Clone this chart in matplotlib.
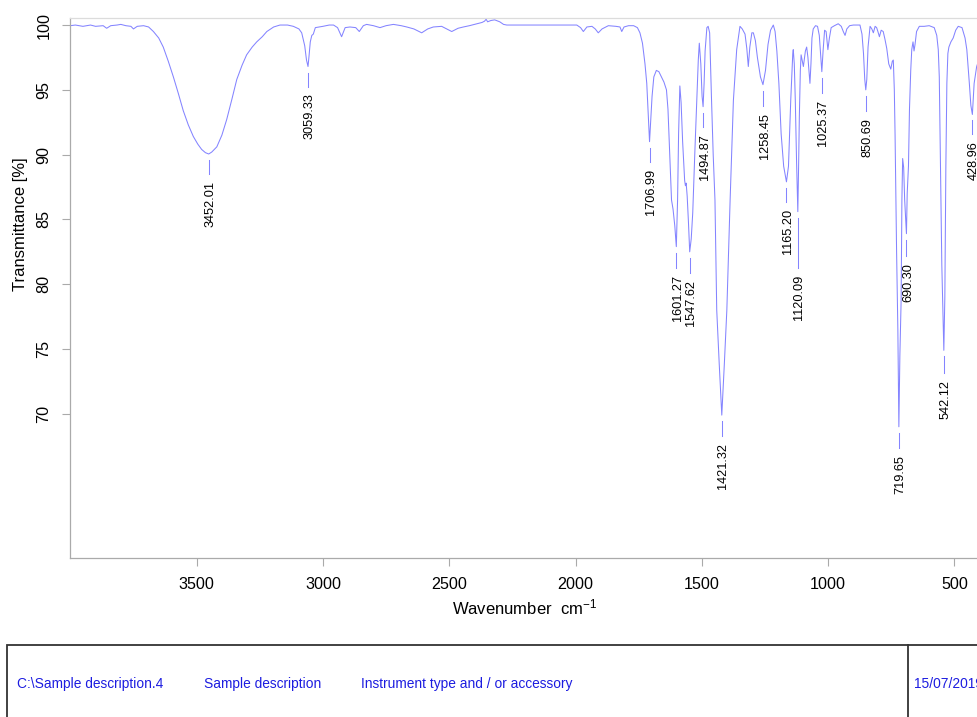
import matplotlib
matplotlib.use("Agg")
import matplotlib.pyplot as plt
from matplotlib.patches import Rectangle
from matplotlib.lines import Line2D

plt.rcParams['font.family'] = ['Liberation Sans', 'DejaVu Sans']
plt.rcParams['mathtext.default'] = 'regular'

# ---------------- data ----------------
wavenumber = [
    4000, 3980, 3950, 3920, 3900, 3870, 3856, 3840, 3815, 3800, 3780, 3760, 3750, 3735, 3710, 3690,
    3671, 3650, 3632, 3612, 3592, 3572, 3553, 3533, 3513, 3495, 3480, 3465, 3452, 3440, 3420, 3400,
    3381, 3360, 3341, 3320, 3302, 3280, 3262, 3240, 3222, 3195, 3170, 3140, 3117, 3095, 3084, 3072,
    3065, 3059, 3055, 3050, 3044, 3038, 3030, 3000, 2975, 2958, 2942, 2926, 2912, 2893, 2870, 2856,
    2840, 2827, 2800, 2774, 2750, 2721, 2690, 2668, 2640, 2609, 2585, 2563, 2530, 2510, 2490, 2465,
    2444, 2420, 2400, 2370, 2360, 2354, 2348, 2335, 2320, 2300, 2285, 2272, 2100, 1995, 1980, 1969,
    1955, 1935, 1922, 1910, 1895, 1870, 1840, 1824, 1817, 1808, 1790, 1770, 1755, 1745, 1735, 1725,
    1718, 1712, 1707, 1702, 1697, 1690, 1680, 1670, 1660, 1650, 1640, 1634, 1628, 1620, 1614, 1607,
    1601, 1596, 1592, 1587, 1582, 1576, 1568, 1565, 1562, 1558, 1553, 1548, 1542, 1536, 1528, 1520,
    1514, 1510, 1504, 1499, 1495, 1491, 1487, 1480, 1475, 1469, 1462, 1455, 1448, 1441, 1431, 1421,
    1411, 1401, 1388, 1375, 1362, 1349, 1340, 1329, 1322, 1316, 1310, 1302, 1296, 1288, 1280, 1268,
    1258, 1248, 1238, 1228, 1217, 1210, 1203, 1195, 1186, 1176, 1165, 1157, 1148, 1140, 1138, 1134,
    1130, 1125, 1120, 1117, 1114, 1110, 1107, 1102, 1098, 1090, 1085, 1080, 1076, 1072, 1068, 1064,
    1059, 1050, 1042, 1035, 1030, 1025, 1020, 1014, 1008, 1001, 995, 988, 975, 960, 948, 940,
    933, 926, 915, 900, 874, 866, 860, 855, 851, 847, 842, 834, 827, 821, 814, 808,
    803, 797, 790, 782, 775, 768, 760, 752, 746, 742, 738, 735, 729, 724, 720, 716,
    711, 708, 705, 701, 697, 690, 687, 682, 678, 673, 669, 664, 660, 656, 650, 639,
    620, 600, 580, 570, 564, 560, 557, 550, 546, 542, 538, 534, 530, 526, 522, 514,
    505, 495, 485, 470, 458, 451, 441, 435, 429, 422, 412, 400,
]
transmittance = [
    99.95, 100.0, 99.9, 100.0, 99.9, 99.95, 99.75, 99.95, 100.0, 100.05, 99.95, 99.9, 99.7, 99.9, 99.95, 99.85,
    99.5, 99.0, 98.3, 97.2, 96.0, 94.7, 93.4, 92.3, 91.4, 90.8, 90.4, 90.15, 90.05, 90.2, 90.6, 91.5,
    92.7, 94.3, 95.8, 96.9, 97.7, 98.3, 98.7, 99.1, 99.5, 99.85, 100.0, 100.0, 99.9, 99.7, 99.4, 98.4,
    97.3, 96.8, 97.6, 98.7, 99.2, 99.3, 99.8, 99.9, 100.0, 100.0, 99.8, 99.1, 99.8, 99.85, 99.8, 99.5,
    99.95, 100.05, 99.95, 99.8, 99.95, 100.05, 99.95, 99.85, 99.7, 99.4, 99.7, 99.85, 99.9, 99.7, 99.5, 99.75,
    99.85, 99.95, 100.05, 100.2, 100.3, 100.45, 100.25, 100.35, 100.4, 100.25, 100.05, 100.0, 100.0, 100.0, 99.8, 99.5,
    99.85, 99.9, 99.7, 99.4, 99.7, 99.95, 99.9, 99.85, 99.5, 99.85, 99.95, 99.95, 99.8, 99.4, 98.6, 97.0,
    95.5, 93.0, 91.0, 92.8, 94.5, 96.0, 96.5, 96.4, 96.0, 95.6, 95.0, 93.5, 90.5, 86.5, 85.8, 84.5,
    82.9, 86.5, 91.6, 95.3, 94.0, 91.0, 88.0, 87.6, 87.8, 86.8, 84.8, 82.5, 83.5, 85.5, 90.0, 94.2,
    97.3, 98.6, 97.0, 94.5, 93.7, 95.5, 98.0, 99.8, 99.9, 99.4, 94.5, 90.0, 86.5, 78.0, 73.8, 69.9,
    73.8, 78.0, 86.5, 94.2, 98.1, 99.9, 99.7, 99.3, 98.2, 96.8, 98.3, 99.4, 99.4, 98.8, 97.5, 96.0,
    95.4, 96.5, 98.5, 99.6, 100.0, 99.5, 98.0, 95.5, 91.6, 89.1, 87.9, 89.1, 94.2, 97.8, 98.1, 97.0,
    94.2, 89.5, 85.6, 89.0, 92.9, 96.5, 97.7, 97.2, 96.8, 98.0, 98.3, 97.5, 96.5, 95.5, 97.0, 99.0,
    99.7, 99.95, 99.9, 99.2, 97.8, 96.4, 98.0, 99.6, 99.5, 98.1, 99.0, 99.8, 99.95, 100.1, 99.9, 99.5,
    99.2, 99.7, 99.95, 100.0, 100.0, 99.3, 97.8, 95.8, 95.0, 95.8, 98.3, 99.9, 99.7, 99.4, 99.9, 99.8,
    99.5, 99.1, 99.6, 99.5, 98.9, 98.2, 97.0, 96.6, 97.2, 97.3, 95.0, 91.5, 82.5, 76.5, 69.0, 74.5,
    78.8, 86.5, 89.7, 89.0, 86.5, 83.9, 87.0, 89.1, 93.5, 96.5, 98.1, 98.7, 98.0, 98.5, 99.5, 99.9,
    99.9, 99.95, 99.8, 99.2, 98.1, 96.0, 91.6, 81.5, 78.3, 74.9, 79.0, 89.0, 95.5, 97.8, 98.3, 98.7,
    99.0, 99.6, 99.9, 99.8, 99.0, 98.1, 95.5, 93.8, 93.1, 95.5, 96.8, 97.5,
]

peak_wn = [3452.01, 3059.33, 1706.99, 1601.27, 1547.62, 1494.87, 1421.32, 1258.45,
           1165.20, 1120.09, 1025.37, 850.69, 719.65, 690.30, 542.12, 428.96]
peak_labels = ["3452.01", "3059.33", "1706.99", "1601.27", "1547.62", "1494.87", "1421.32", "1258.45",
               "1165.20", "1120.09", "1025.37", "850.69", "719.65", "690.30", "542.12", "428.96"]
peak_T = [90.05, 96.8, 91.0, 82.9, 82.5, 93.7, 69.9, 95.4,
          87.9, 85.6, 96.4, 95.0, 69.0, 83.9, 74.9, 93.1]
peak_extra_drop_px = [0, 0, 0, 1, 1, 0, 1, 1, 0, 36, 1, 1, 1, 2, 3, 0]

x_ticks = [3500, 3000, 2500, 2000, 1500, 1000, 500]
y_ticks = [70, 75, 80, 85, 90, 95, 100]

footer_texts = ["C:\\Sample description.4", "Sample description",
                "Instrument type and / or accessory", "15/07/2019"]
footer_x_px = [17, 204, 361, 914]

# ---------------- figure ----------------
W, H = 977, 717
fig = plt.figure(figsize=(W / 100, H / 100), dpi=100)

left_px, right_px, top_px, bot_px = 70.3, 979.7, 18.3, 558.3
ax = fig.add_axes([left_px / W, 1 - bot_px / H, (right_px - left_px) / W, (bot_px - top_px) / H])

line_color = '#8484ff'
ax.plot(wavenumber, transmittance, color=line_color, lw=0.75)

ax.set_xlim(4000, 400)
ax.set_ylim(58.85, 100.52)

px_per_T = (bot_px - top_px) / (100.52 - 58.85)

for wn, lab, t, extra in zip(peak_wn, peak_labels, peak_T, peak_extra_drop_px):
    y1 = t - 6 / px_per_T
    y2 = t - (20 + extra) / px_per_T
    ax.plot([wn, wn], [y1, y2], color=line_color, lw=0.75)
    ty = t - (27 + extra) / px_per_T
    ax.annotate(lab, xy=(wn, ty), xytext=(1.2, 0), textcoords='offset points',
                rotation=90, ha='center', va='top', fontsize=9.2, color='black',
                annotation_clip=False)

ax.set_xticks(x_ticks)
ax.set_yticks(y_ticks)
ax.set_xticklabels([str(v) for v in x_ticks])
ax.set_yticklabels([str(v) for v in y_ticks], rotation=90, va='center')

ax.tick_params(axis='both', direction='out', length=5.5, width=0.8, color='#aaaaaa',
               labelcolor='black', labelsize=11.6, pad=8)

for s in ['left', 'bottom']:
    ax.spines[s].set_color('#aaaaaa')
    ax.spines[s].set_linewidth(0.9)
ax.spines['top'].set_color('#dcdcdc')
ax.spines['top'].set_linewidth(0.9)
ax.spines['right'].set_visible(False)

ax.set_ylabel('Transmittance [%]', fontsize=12)
ax.yaxis.set_label_coords(-0.046, 0.619)
ax.set_xlabel('Wavenumber  cm$^{-1}$', fontsize=12)
ax.xaxis.set_label_coords(0.5, -0.072)

# ---------------- footer box ----------------
box_top = 1 - 645 / H
fig.add_artist(Rectangle((6.7 / W, -0.2), 1.2, box_top + 0.2, transform=fig.transFigure,
                         fill=False, edgecolor='#333333', lw=1.3))
fig.add_artist(Line2D([908 / W, 908 / W], [-0.1, box_top], transform=fig.transFigure,
                      color='#333333', lw=1.3))

for txt, xp in zip(footer_texts, footer_x_px):
    fig.text(xp / W, 1 - 688.3 / H, txt, ha='left', va='baseline',
             fontsize=9.9, color='#1c1ce0')

fig.savefig('out.png', dpi=100)
